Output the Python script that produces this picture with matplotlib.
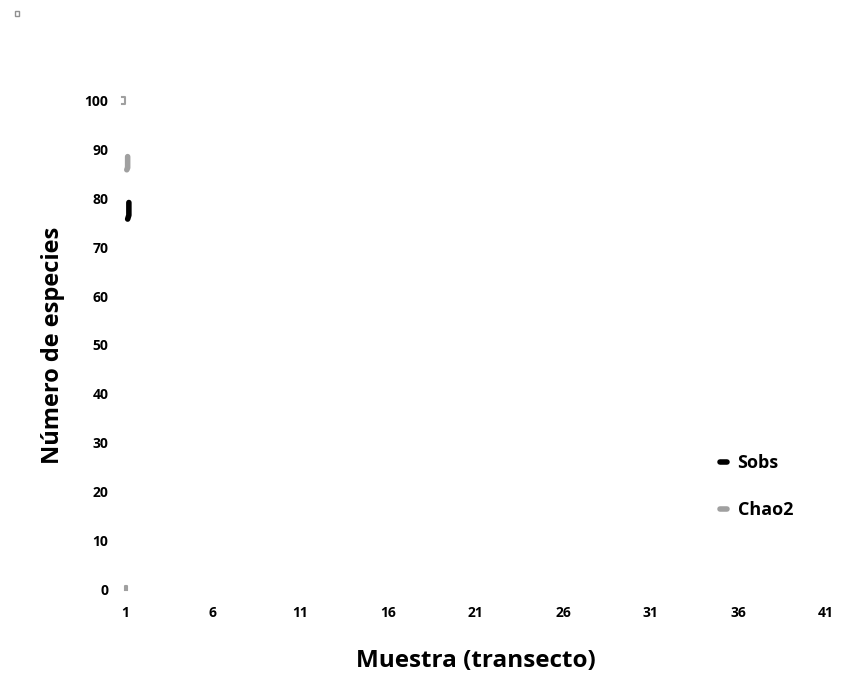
import numpy as np
import matplotlib.pyplot as plt

plt.rcParams['font.family'] = ['Open Sans', 'DejaVu Sans']
plt.rcParams['font.weight'] = 'bold'

# datos (solo quedan visibles los primeros puntos cerca de la muestra 1)
muestra_sobs = [1.15, 1.22, 1.22]
sobs = [75.8, 76.6, 79.2]
muestra_chao2 = [1.1, 1.15, 1.15]
chao2 = [85.9, 86.3, 88.6]
# marcas grises de los extremos (intervalo de Chao2)
ic_x = [0.85, 1.0, 1.0, 0.85]
ic_sup = [100.8, 100.8, 99.4, 99.4]
ic_inf_x = [1.0, 1.0, 1.1, 1.1]
ic_inf = [-0.2, 0.7, 0.7, -0.2]

xticks = [1, 6, 11, 16, 21, 26, 31, 36, 41]
yticks = [0, 10, 20, 30, 40, 50, 60, 70, 80, 90, 100]

fig = plt.figure(figsize=(8.43, 6.8), dpi=100)
ax = fig.add_axes([0.1483, 0.1338, 0.8315, 0.7177])

ax.plot(muestra_sobs, sobs, color='black', lw=4, solid_capstyle='round', label='Sobs', clip_on=False)
ax.plot(muestra_chao2, chao2, color='#a0a0a0', lw=4, solid_capstyle='round', label='Chao2', clip_on=False)
ax.plot(ic_x, ic_sup, color='#a0a0a0', lw=1.5, clip_on=False)
ax.plot(ic_inf_x, ic_inf, color='#a0a0a0', lw=1.5, clip_on=False)

ax.set_xlim(1, 41)
ax.set_ylim(0, 100)
ax.set_xticks(xticks)
ax.set_yticks(yticks)
ax.tick_params(length=0, labelsize=10, pad=12)
ax.tick_params(axis='y', pad=12)
for tl in ax.get_xticklabels() + ax.get_yticklabels():
    tl.set_fontweight('bold')
for s in ax.spines.values():
    s.set_visible(False)

ax.set_xlabel('Muestra (transecto)', fontsize=17.5, fontweight='bold', labelpad=21)
ax.set_ylabel('Número de especies', fontsize=17, fontweight='bold', labelpad=14)

ax.legend(loc='upper left', bbox_to_anchor=(0.825, 0.31), frameon=False,
          handlelength=0.4, handletextpad=0.6, labelspacing=1.6,
          prop={'size': 13, 'weight': 'bold'})

# cuadrito gris arriba a la izquierda
fig.patches.append(plt.Rectangle((0.018, 0.977), 0.005, 0.007, transform=fig.transFigure,
                                 fill=False, edgecolor='#909090', lw=1))

fig.savefig('out.png', dpi=100)
